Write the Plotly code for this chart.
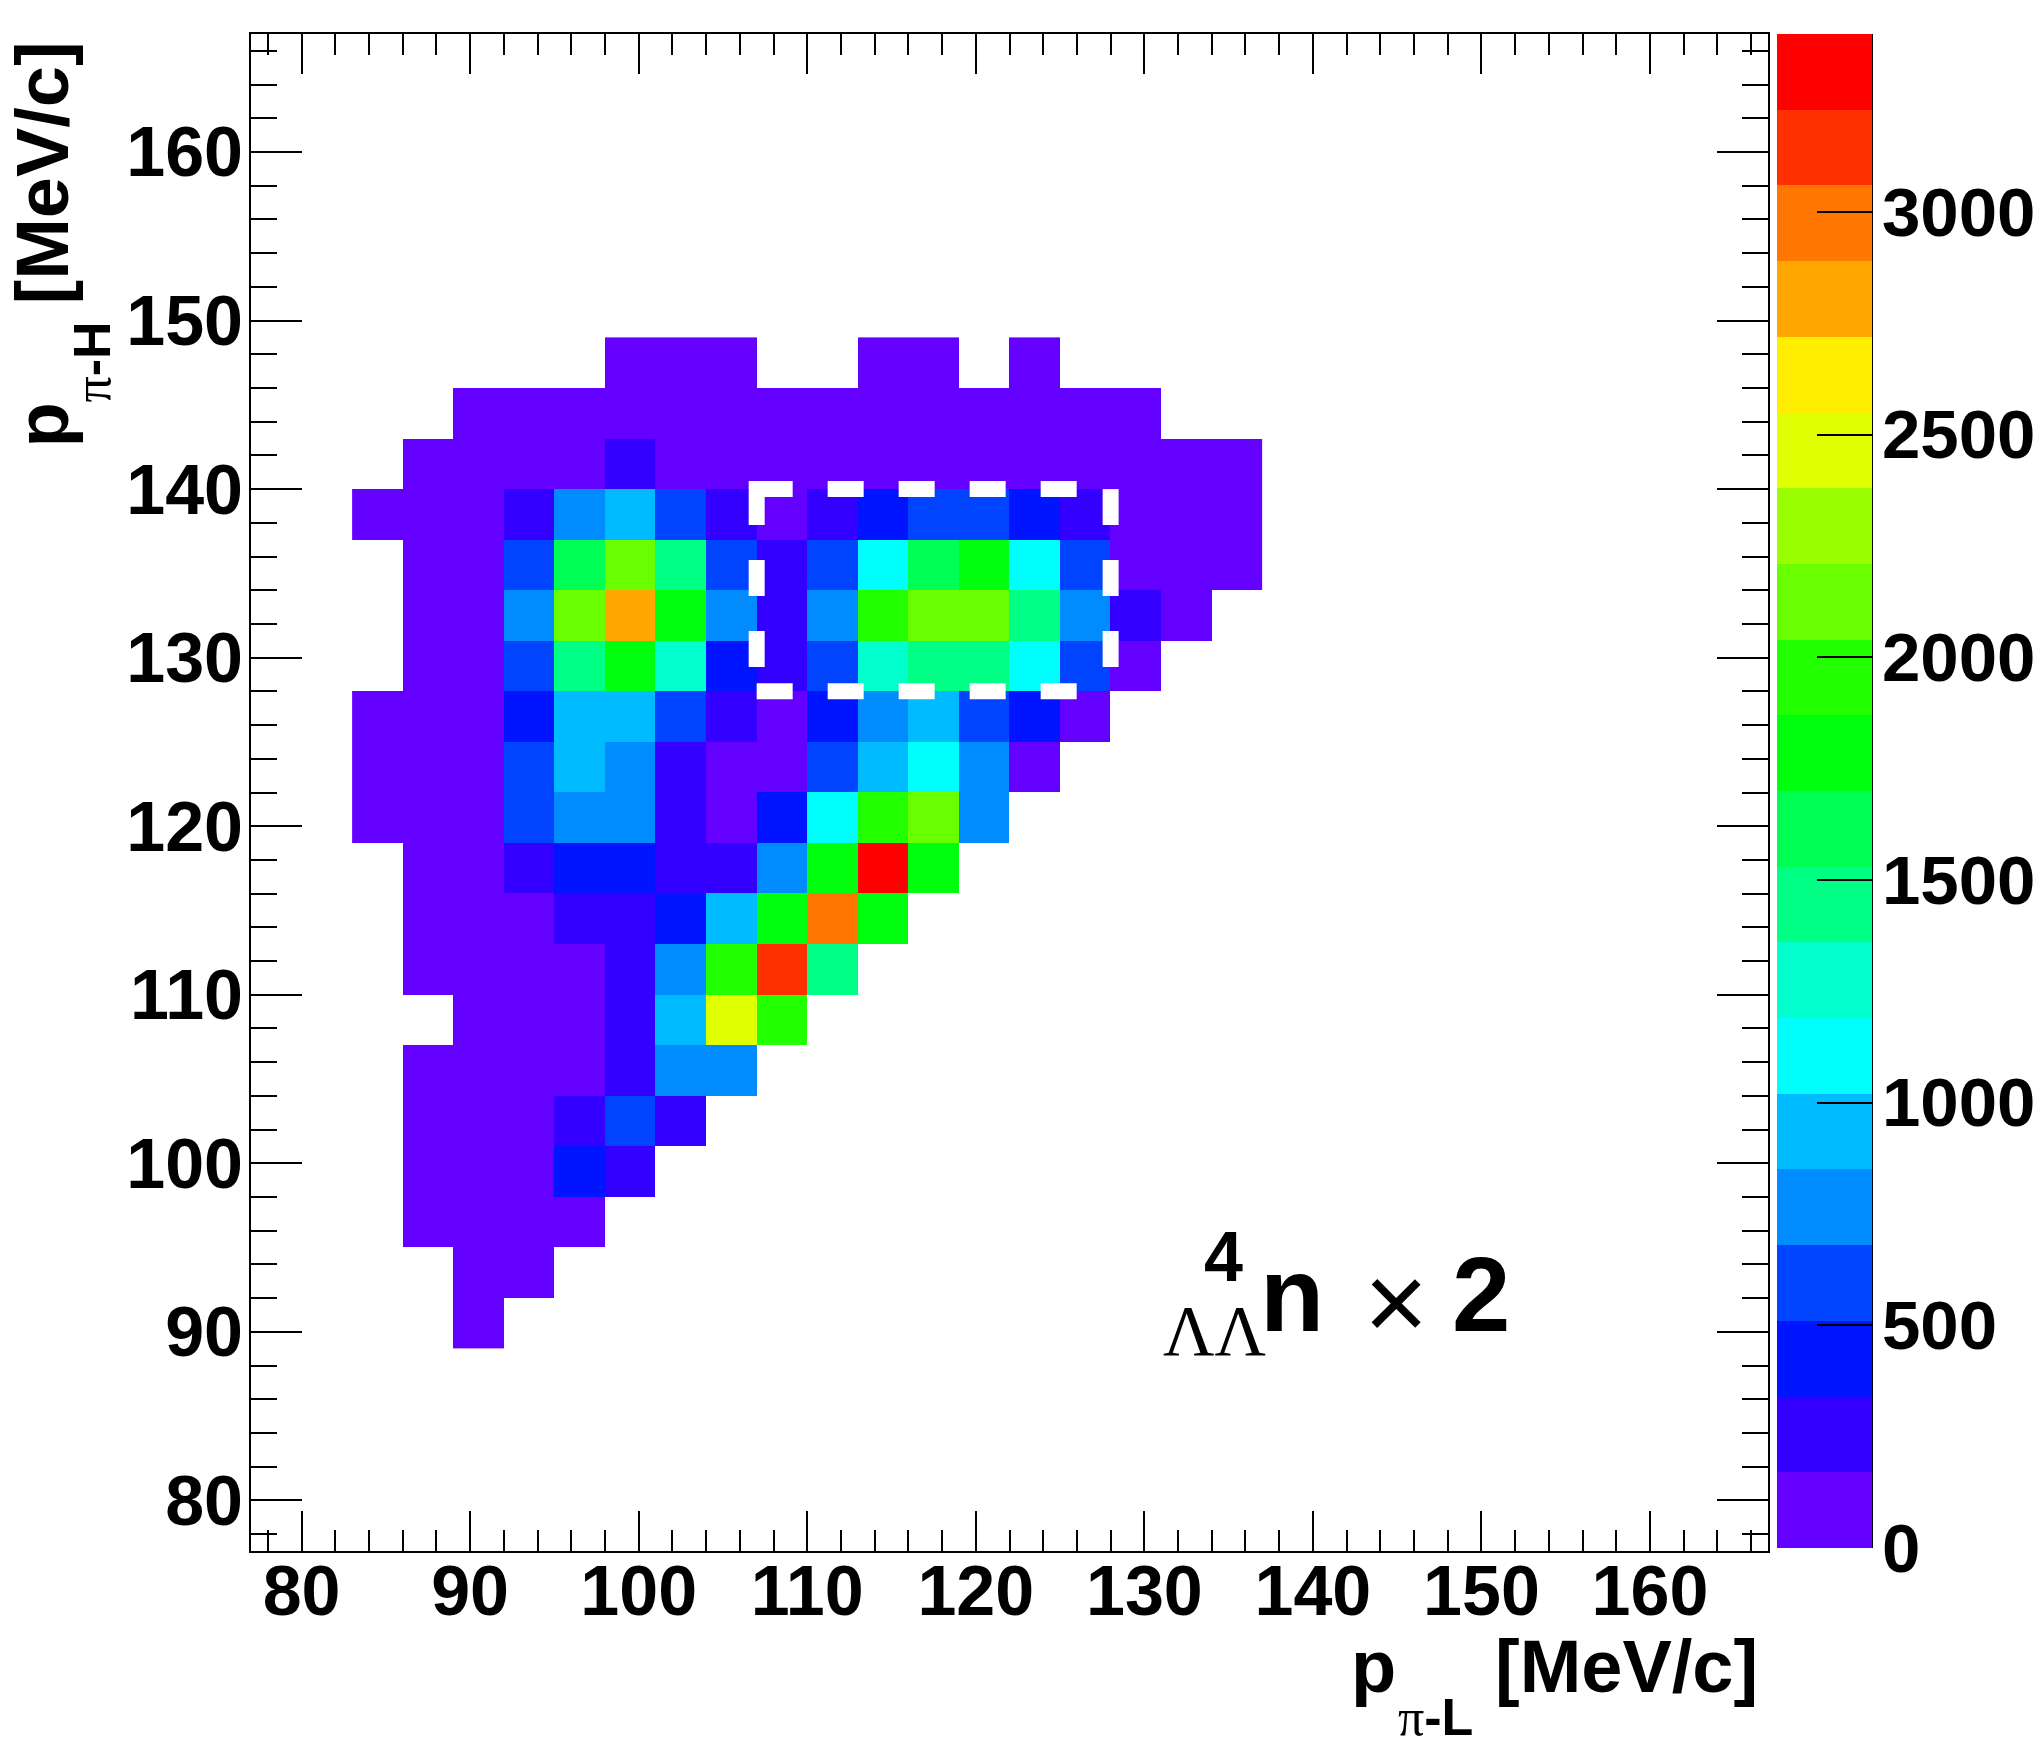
import plotly.graph_objects as go

# ---------------- data (bin lower edges, 3 MeV/c bins) ----------------
x_low_edges = [83, 86, 89, 92, 95, 98, 101, 104, 107, 110, 113, 116, 119, 122, 125, 128, 131, 134]
y_low_edges = [146, 143, 140, 137, 134, 131, 128, 125, 122, 119, 116, 113, 110, 107, 104, 101, 98, 95, 92, 89]
N = None
# counts per bin, rows listed from top (y=146) to bottom (y=89)
counts = [
    [N,  N,  N,  N,  N,  80,  80,  80,  N,  N,  80,  80,  N,  80,  N,  N,  N,  N],
    [N,  N,  80, 80, 80, 80,  80,  80,  80, 80, 80,  80,  80, 80,  80, 80, N,  N],
    [N,  80, 80, 80, 80, 250, 80,  80,  80, 80, 80,  80,  80, 80,  80, 80, 80, 80],
    [80, 80, 80, 250, 760, 930, 600, 250, 80, 250, 420, 600, 600, 420, 250, 80, 80, 80],
    [N,  80, 80, 600, 1620, 2120, 1450, 600, 250, 600, 1100, 1620, 1780, 1100, 600, 80, 80, 80],
    [N,  80, 80, 760, 2120, 2800, 1780, 760, 250, 760, 1950, 2120, 2120, 1450, 760, 250, 80, N],
    [N,  80, 80, 600, 1450, 1780, 1280, 420, 250, 600, 1280, 1450, 1450, 1100, 600, 80, N, N],
    [80, 80, 80, 420, 930, 930, 600, 250, 80, 420, 760, 930, 600, 420, 80, N, N, N],
    [80, 80, 80, 600, 930, 760, 250, 80, 80, 600, 930, 1100, 760, 80, N, N, N, N],
    [80, 80, 80, 600, 760, 760, 250, 80, 420, 1100, 1950, 2120, 760, N, N, N, N, N],
    [N,  80, 80, 250, 420, 420, 250, 250, 760, 1780, 3400, 1780, N, N, N, N, N, N],
    [N,  80, 80, 80, 250, 250, 420, 930, 1780, 2970, 1780, N, N, N, N, N, N, N],
    [N,  80, 80, 80, 80, 250, 760, 1950, 3140, 1450, N, N, N, N, N, N, N, N],
    [N,  N,  80, 80, 80, 250, 930, 2460, 1950, N, N, N, N, N, N, N, N, N],
    [N,  80, 80, 80, 80, 250, 760, 760, N, N, N, N, N, N, N, N, N, N],
    [N,  80, 80, 80, 250, 600, 250, N, N, N, N, N, N, N, N, N, N, N],
    [N,  80, 80, 80, 420, 250, N, N, N, N, N, N, N, N, N, N, N, N],
    [N,  80, 80, 80, 80, N, N, N, N, N, N, N, N, N, N, N, N, N],
    [N,  N,  80, 80, N, N, N, N, N, N, N, N, N, N, N, N, N, N],
    [N,  N,  80, N, N, N, N, N, N, N, N, N, N, N, N, N, N, N],
]
bin_width = 3
z_max = 3400
colorbar_ticks = [0, 500, 1000, 1500, 2000, 2500, 3000]
signal_box_x = [107, 128]
signal_box_y = [128, 140]

# ROOT "pretty" palette with 20 contour levels
palette = ["#6300FF", "#3300FF", "#0014FF", "#0044FF", "#008BFF", "#00BBFF", "#00FFFC",
           "#00FFCC", "#00FF85", "#00FF55", "#00FF0E", "#22FF00", "#69FF00", "#99FF00",
           "#E0FF00", "#FFEE00", "#FFA700", "#FF7700", "#FF3000", "#FF0000"]
ncont = len(palette)
colorscale = []
for k, c in enumerate(palette):
    colorscale.append([k / ncont, c])
    colorscale.append([(k + 1) / ncont, c])

# ---------------- layout geometry (pixels) ----------------
W, H = 2040, 1752
L, T, PW, PH = 251, 34, 1517, 1517
R = W - L - PW
B = H - T - PH


def px(xp):
    return (xp - L) / PW


def py(yp):
    return (T + PH - yp) / PH


xc = [e + bin_width / 2 for e in x_low_edges]
yc = [e + bin_width / 2 for e in y_low_edges][::-1]
zc = counts[::-1]

FONT = "Liberation Sans"
SERIF = "Liberation Serif"

cb_left, cb_right = 1777, 1872
cb_top, cb_bottom = 34, 1548

fig = go.Figure()
fig.add_trace(go.Heatmap(
    x=xc, y=yc, z=zc,
    zmin=0, zmax=z_max,
    colorscale=colorscale,
    xgap=0, ygap=0,
    colorbar=dict(
        x=px(cb_left), xanchor="left", xref="paper",
        y=py(cb_top), yanchor="top", len=(cb_bottom - cb_top) / PH, lenmode="fraction",
        thickness=cb_right - cb_left, thicknessmode="pixels",
        xpad=0, ypad=0, outlinewidth=0,
        tickmode="array", tickvals=colorbar_ticks,
        ticks="inside", ticklen=55, tickwidth=1.5, tickcolor="black",
        showticklabels=False,
    ),
    hoverinfo="skip",
))

axis_common = dict(
    showgrid=False, zeroline=False,
    showline=True, linecolor="black", linewidth=2,
    mirror="ticks", ticks="inside", tickcolor="black", tickwidth=2,
    dtick=10, tick0=0,
    tickfont=dict(family=FONT, size=70, color="black", weight="bold"),
)
fig.update_xaxes(range=[77, 167], ticklen=40, ticklabelstandoff=-22,
                 minor=dict(dtick=2, tick0=0, ticks="inside", ticklen=21, tickwidth=2, tickcolor="black"),
                 **axis_common)
fig.update_yaxes(range=[77, 167], ticklen=51, ticklabelstandoff=-8,
                 minor=dict(dtick=2, tick0=0, ticks="inside", ticklen=26, tickwidth=2, tickcolor="black"),
                 **axis_common)

# dashed signal box
wline = dict(color="white", width=16)
x0, x1 = signal_box_x
y0, y1 = signal_box_y
ext = 8 / (PH / 90)
fig.add_shape(type="line", x0=x0, x1=x1, y0=y1, y1=y1, line=dict(**wline, dash="36px,35px"))
fig.add_shape(type="line", x0=x0, x1=x1, y0=y0, y1=y0, line=dict(**wline, dash="36px,35px"))
fig.add_shape(type="line", x0=x0, x1=x0, y0=y1 + ext, y1=y0, line=dict(**wline, dash="44px,35px,36px,35px,36px,60px"))
fig.add_shape(type="line", x0=x1, x1=x1, y0=y1, y1=y0, line=dict(**wline, dash="36px,35px"))

# colorbar axis line (right edge)
fig.add_shape(type="line", xref="paper", yref="paper",
              x0=px(cb_right), x1=px(cb_right), y0=py(cb_bottom), y1=py(cb_top),
              line=dict(color="black", width=2))

annots = []


def txt(text, xpix, ypix, size, xanchor="center", yanchor="middle", family=FONT,
        weight="bold", angle=0):
    annots.append(dict(text=text, x=px(xpix), y=py(ypix), xref="paper", yref="paper",
                       xanchor=xanchor, yanchor=yanchor, showarrow=False, borderpad=0,
                       textangle=angle,
                       font=dict(family=family, size=size, color="black", weight=weight)))


# colorbar tick labels (placed next to the colorbar's ticks)
for v in colorbar_ticks:
    ypix = cb_bottom - v / z_max * (cb_bottom - cb_top)
    txt(str(v), cb_right + 9, ypix, 69, xanchor="left")

# x-axis title
txt("p", 1350, 1666, 74, xanchor="left")
txt("<span style='font-family:Liberation Serif;font-weight:normal'>π</span>-L", 1397, 1717, 52, xanchor="left")
txt("[MeV/c]", 1759, 1666, 74, xanchor="right")

# y-axis title (rotated)
txt("p", 42, 449, 74, yanchor="bottom", angle=-90)
txt("<span style='font-family:Liberation Serif;font-weight:normal'>π</span>-H", 91, 404, 52, yanchor="bottom", angle=-90)
txt("[MeV/c]", 42, 41, 74, yanchor="top", angle=-90)

# label ^{4}_{ΛΛ}n × 2
txt("4", 1223, 1257, 70)
txt("ΛΛ", 1214, 1331, 71, family=SERIF, weight="normal")
txt("n", 1292, 1294, 105)
txt("×", 1396, 1301, 110, weight="normal")
txt("2", 1481, 1294, 105)

fig.update_layout(
    width=W, height=H,
    margin=dict(l=L, r=R, t=T, b=B, pad=0, autoexpand=False),
    paper_bgcolor="white", plot_bgcolor="white",
    showlegend=False,
    annotations=annots,
)

fig.write_html("out.html")
